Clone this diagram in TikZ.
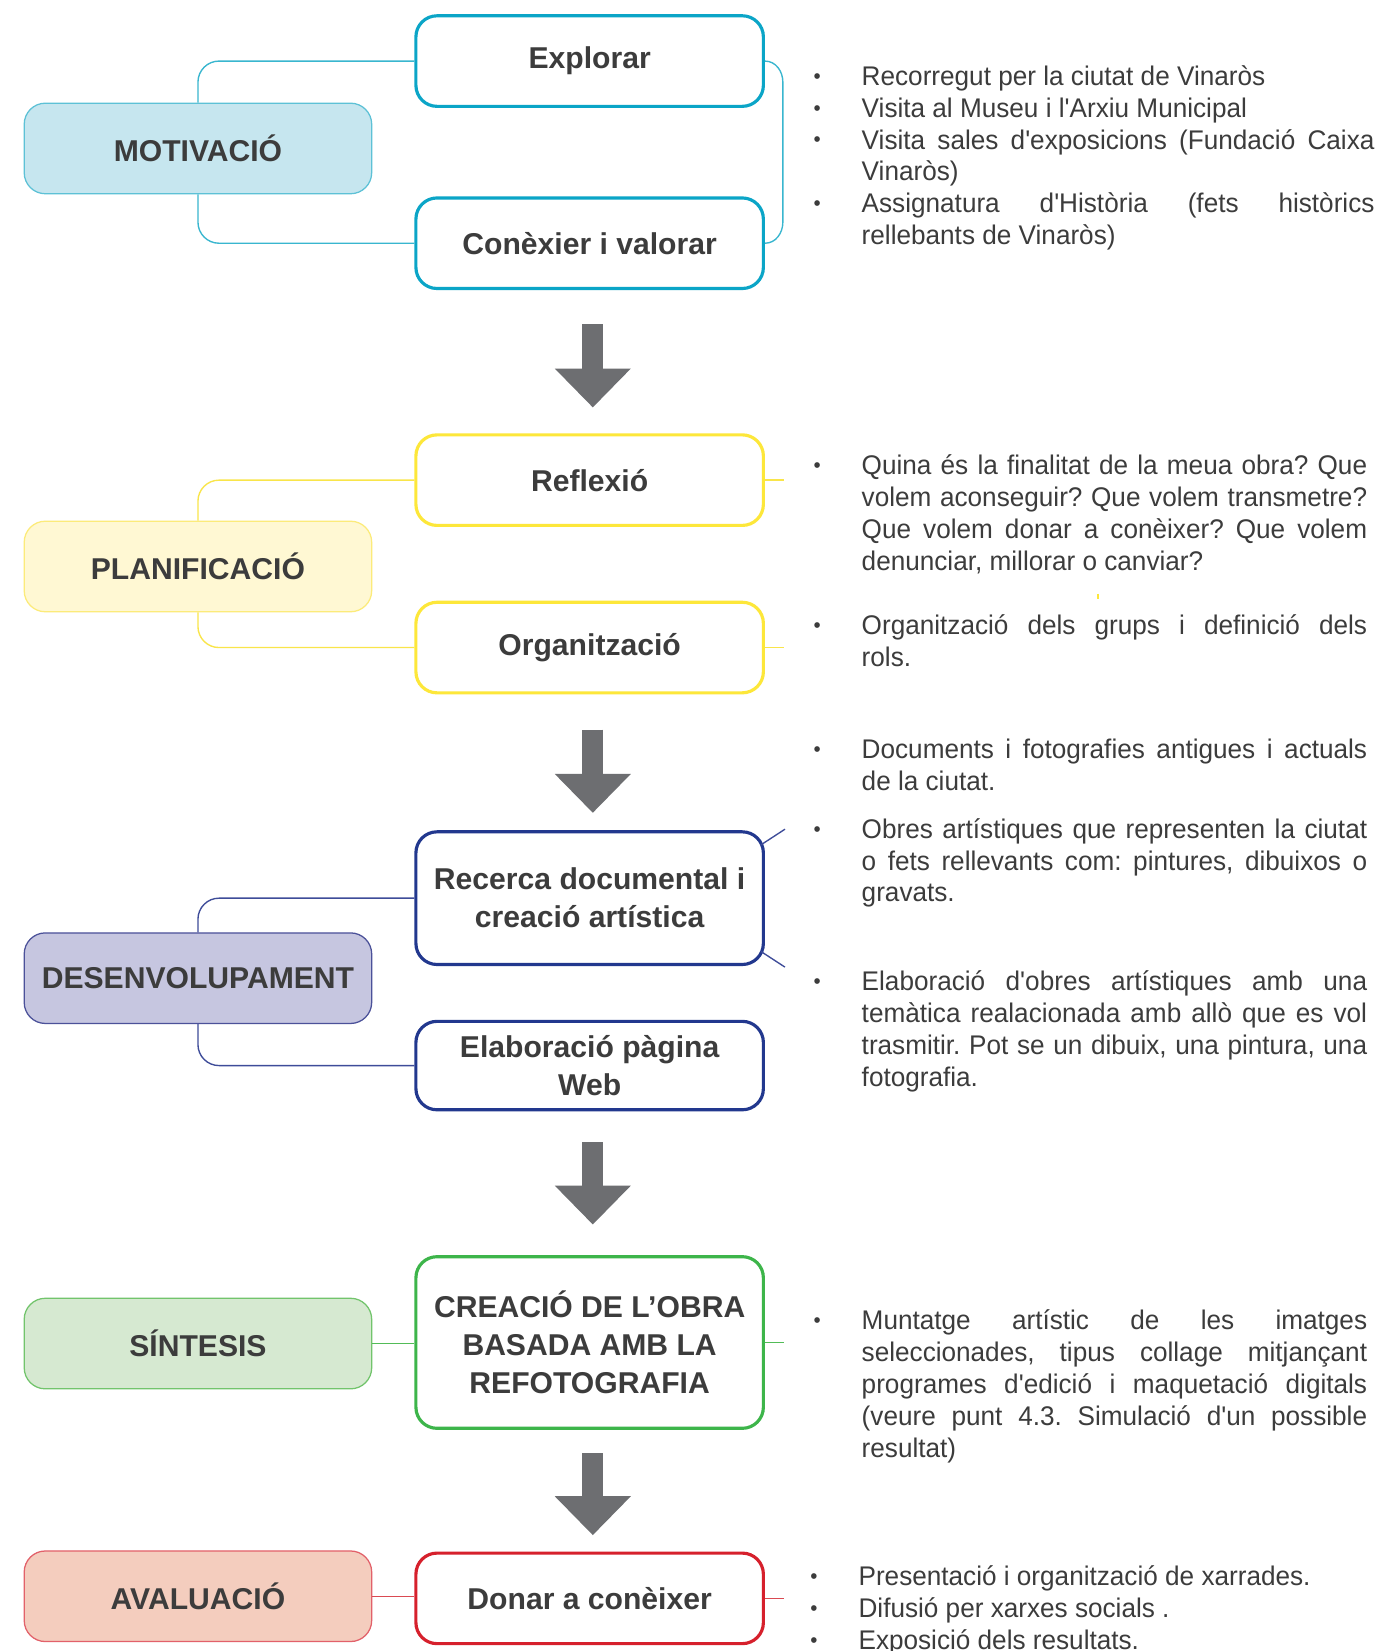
\documentclass[tikz,border=0pt]{standalone}
\usepackage{fontspec}
\setmainfont{Liberation Sans}
\newfontfamily\notesfamily{Liberation Sans}[FakeStretch=0.97]
\usetikzlibrary{arrows.meta, calc}

\definecolor{ink}{HTML}{3C3C3C}
\definecolor{arrowgray}{HTML}{6D6E71}
\definecolor{motfill}{HTML}{C6E6EF}
\definecolor{motedge}{HTML}{5DC1D6}
\definecolor{motline}{HTML}{0BA5C7}
\definecolor{motlink}{HTML}{39B6CF}
\definecolor{planfill}{HTML}{FFF8D3}
\definecolor{planedge}{HTML}{FCEB7A}
\definecolor{planline}{HTML}{FDE73A}
\definecolor{planlink}{HTML}{F9E54A}
\definecolor{desfill}{HTML}{C6C6E0}
\definecolor{desedge}{HTML}{4B5199}
\definecolor{desline}{HTML}{22388E}
\definecolor{deslink}{HTML}{3E4C99}
\definecolor{sinfill}{HTML}{D6E9D1}
\definecolor{sinedge}{HTML}{72C46C}
\definecolor{sinline}{HTML}{3DB54A}
\definecolor{sinlink}{HTML}{52BC57}
\definecolor{avafill}{HTML}{F4CDBE}
\definecolor{avaedge}{HTML}{E2616A}
\definecolor{avaline}{HTML}{D6202C}
\definecolor{avalink}{HTML}{DA4A52}

\newcommand{\boxfont}{\fontsize{14.3}{18}\selectfont\bfseries}
\newcommand{\notefont}{\notesfamily\fontsize{12.8}{15.15}\selectfont\frenchspacing
  \hyphenpenalty=10000\exhyphenpenalty=10000\tolerance=9000}
\newcommand{\bul}{\leavevmode\llap{\raisebox{1pt}{\fontsize{10}{10}\selectfont\textbullet}\hspace{19.5pt}}}

\begin{document}
\begin{tikzpicture}[x=0.5pt, y=-0.5pt,
  phase/.style={draw, rounded corners=10pt, minimum width=165pt, minimum height=43pt,
    inner sep=0pt, font=\boxfont, text=ink, line width=0.6pt},
  task/.style={phase, fill=white, line width=1.5pt, align=center},
  notes/.style={anchor=base west, inner sep=0pt, text width=240pt, align=justify,
    font=\notefont, text=ink},
  link/.style={line width=0.65pt, rounded corners=10pt},
  bigarrow/.style={draw=arrowgray, line width=10pt, -{Triangle[length=18.5pt, width=35pt]}}]

  \fill[white] (0,0) rectangle (1310,1568);
  \useasboundingbox (0,0) rectangle (1310,1568);

  % motivacio
  \node[phase, fill=motfill, draw=motedge] (mot) at (188,141) {MOTIVACIÓ};
  \node[task, draw=motline] (expl) at (560,58) {Explorar};
  \node[task, draw=motline] (conex) at (560,231) {Conèxier i valorar};
  \draw[link, motlink] (mot.north) |- (expl.west);
  \draw[link, motlink] (mot.south) |- (conex.west);
  \draw[motlink, line width=0.65pt] (expl.east) to[out=0, in=90] ++(17,20) -- ++(0,133)
    to[out=-90, in=0] (conex.east);
  \node[notes, text width=243.5pt] (motnotes) at (818,81) {%
    \bul Recorregut per la ciutat de Vinaròs\par
    \bul Visita al Museu i l'Arxiu Municipal\par
    \bul Visita sales d'exposicions (Fundació Caixa Vinaròs)\par
    \bul Assignatura d'Història (fets històrics rellebants de Vinaròs)};

  % planificacio
  \node[phase, fill=planfill, draw=planedge] (plan) at (188,538) {PLANIFICACIÓ};
  \node[task, draw=planline] (refl) at (560,456) {Reflexió};
  \node[task, draw=planline] (orga) at (560,615) {Organització};
  \draw[link, planlink] (plan.north) |- (refl.west);
  \draw[link, planlink] (plan.south) |- (orga.west);
  \draw[planlink, line width=0.65pt] (refl.east) -- ++(18,0);
  \draw[planlink, line width=0.65pt] (orga.east) -- ++(18,0);
  \draw[planline, line width=1pt] (1043,564) -- (1043,569);
  \node[notes] (reflnotes) at (818,451) {\bul Quina és la finalitat de la meua obra? Que\linebreak
    volem aconseguir? Que volem transmetre?\linebreak Que volem donar a conèixer? Que volem\linebreak
    denunciar, millorar o canviar?};
  \node[notes] (organotes) at (818,603) {\bul Organització dels grups i definició dels\linebreak rols.};

  % desenvolupament
  \node[phase, fill=desfill, draw=desedge] (des) at (188,929) {DESENVOLUPAMENT};
  \node[task, draw=desline, minimum height=63pt] (rec) at (560,853)
    {Recerca documental i\\creació artística};
  \node[task, draw=desline, minimum height=42pt] (web) at (560,1012)
    {Elaboració pàgina\\Web};
  \draw[link, deslink] (des.north) |- (rec.west);
  \draw[link, deslink] (des.south) |- (web.west);
  \draw[deslink, line width=0.65pt] ($(rec.north east)+(-4,14)$) -- ++(23,-15);
  \draw[deslink, line width=0.65pt] ($(rec.south east)+(-4,-14)$) -- ++(23,15);
  \node[notes] (recnotes1) at (818,720) {\bul Documents i fotografies antigues i actuals
    de la ciutat.};
  \node[notes] (recnotes2) at (818,796) {\bul Obres artístiques que representen la ciutat
    o fets rellevants com: pintures, dibuixos o gravats.};
  \node[notes] (recnotes3) at (818,941) {\bul Elaboració d'obres artístiques amb una
    temàtica realacionada amb allò que es vol trasmitir. Pot se un dibuix, una pintura,
    una fotografia.};

  % sintesis
  \node[phase, fill=sinfill, draw=sinedge] (sin) at (188,1276) {SÍNTESIS};
  \node[task, draw=sinline, minimum height=81.5pt] (obra) at (560,1275)
    {CREACIÓ DE L'OBRA\\BASADA AMB LA\\REFOTOGRAFIA};
  \draw[sinlink, line width=0.65pt] (sin.east) -- (sin.east -| obra.west);
  \draw[sinlink, line width=0.65pt] (obra.east) -- ++(18,0);
  \node[notes] (obranotes) at (818,1263) {\bul Muntatge artístic de les imatges
    seleccionades, tipus collage mitjançant programes d'edició i maquetació digitals
    (veure punt 4.3. Simulació d'un possible resultat)};

  % avaluacio
  \node[phase, fill=avafill, draw=avaedge] (ava) at (188,1516) {AVALUACIÓ};
  \node[task, draw=avaline] (donar) at (560,1518) {Donar a conèixer};
  \draw[avalink, line width=0.65pt] (ava.east) -- (ava.east -| donar.west);
  \draw[avalink, line width=0.65pt] (donar.east) -- ++(18,0);
  \node[notes] (donarnotes) at (815,1506) {%
    \bul Presentació i organització de xarrades.\par
    \bul Difusió per xarxes socials .\par
    \bul Exposició dels resultats.};

  % fletxes
  \coordinate (a1s) at (563,308);  \coordinate (a1e) at (563,387);
  \coordinate (a2s) at (563,693);  \coordinate (a2e) at (563,772);
  \coordinate (a3s) at (563,1085); \coordinate (a3e) at (563,1163);
  \coordinate (a4s) at (563,1380); \coordinate (a4e) at (563,1458);
  \foreach \n in {1,...,4}
    \draw[bigarrow] (a\n s) -- (a\n e);
\end{tikzpicture}
\end{document}
